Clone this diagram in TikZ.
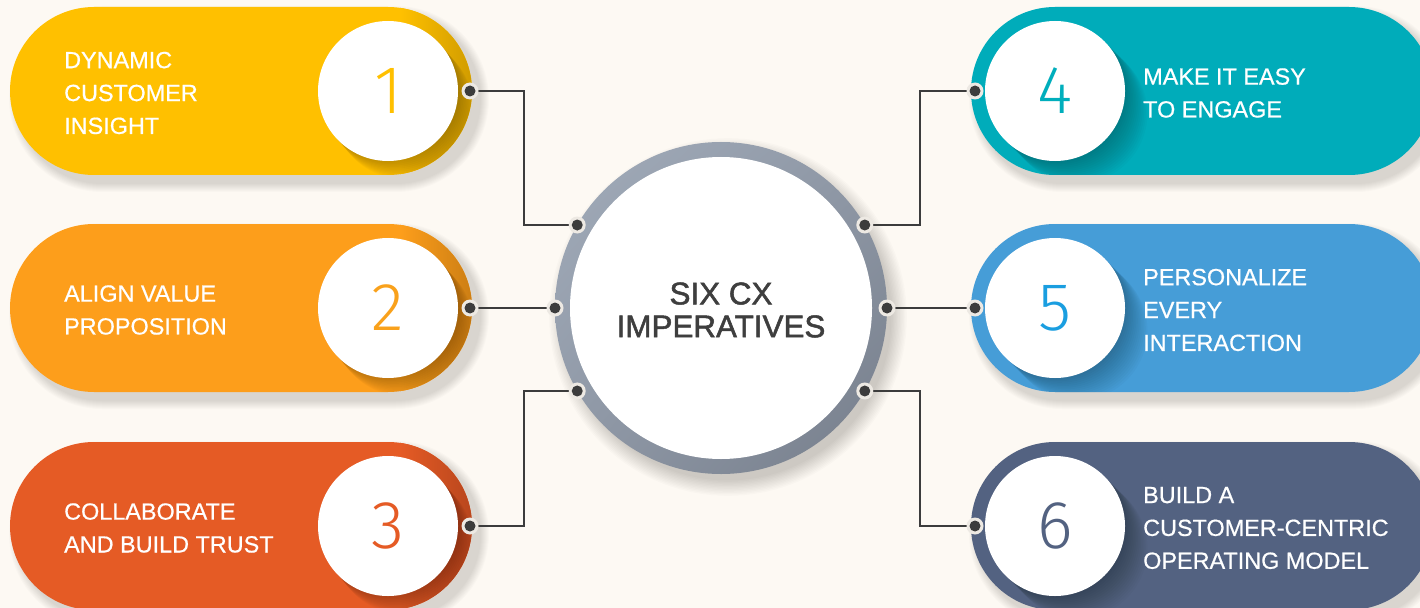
\documentclass[tikz,border=0pt]{standalone}
\usepackage{fontspec}
\setmainfont{Liberation Sans}[FakeBold=0.6]
\newfontfamily\hubfont{Liberation Sans}[FakeBold=1.6]
\newfontfamily\numfont{Fira Sans Light}
\usetikzlibrary{calc,shadings}

\definecolor{bgc}{HTML}{FDF9F3}
\definecolor{yel}{HTML}{FFC000}
\definecolor{yelD}{HTML}{D09C00}
\definecolor{org}{HTML}{FD9E1B}
\definecolor{orgD}{HTML}{CC7E14}
\definecolor{red}{HTML}{E55B25}
\definecolor{redD}{HTML}{B8461D}
\definecolor{teal}{HTML}{00ACBA}
\definecolor{blu}{HTML}{469DD7}
\definecolor{slate}{HTML}{536281}
\definecolor{n1}{HTML}{FFC000}
\definecolor{n2}{HTML}{F9A11B}
\definecolor{n3}{HTML}{E55B25}
\definecolor{n4}{HTML}{00AEBC}
\definecolor{n5}{HTML}{1A9EE0}
\definecolor{n6}{HTML}{536281}
\definecolor{ringL}{HTML}{A2ACBA}
\definecolor{ringM}{HTML}{8F98A6}
\definecolor{ringD}{HTML}{757D8A}
\definecolor{wirec}{HTML}{3C3C3C}
\definecolor{haloc}{HTML}{EDE9E3}
\definecolor{hubtext}{HTML}{3E3E3E}

\tikzset{
  wire/.style={draw=wirec, line width=2bp},
  numdisc/.style={circle, fill=white, minimum size=140bp, inner sep=0pt, outer sep=0pt,
    font=\numfont\fontsize{68}{68}\selectfont},
  lbl/.style={anchor=west, align=left, inner sep=0pt, text=white,
    font=\fontsize{23.5}{33}\selectfont},
  hubring/.style={circle, minimum size=332bp, inner sep=0pt, outer sep=0pt,
    upper left=ringL, upper right=ringM, lower left=ringM, lower right=ringD},
  hubface/.style={circle, fill=white, minimum size=302bp, inner sep=0pt},
  hubtitle/.style={align=center, text=hubtext, inner sep=0pt,
    font=\hubfont\fontsize{31.5}{33}\selectfont},
}

\begin{document}
\begin{tikzpicture}[x=1bp, y=-1bp]
\useasboundingbox (0,0) rectangle (1420,608);
\clip (0,0) rectangle (1420,608);
\fill[bgc] (0,0) rectangle (1420,608);

% ---------- left-hand pills ----------
\foreach \y/\c/\d/\n/\t in {91/yel/yelD/1/{DYNAMIC\\CUSTOMER\\INSIGHT},
                             308/org/orgD/2/{ALIGN VALUE\\PROPOSITION},
                             526/red/redD/3/{COLLABORATE\\AND BUILD TRUST}}{
  % soft drop shadow
  \foreach \i in {1,...,9}
    \fill[black, opacity=0.014, rounded corners={84bp+\i bp}]
      ({18-\i}, {\y-76-\i}) rectangle ({480+\i}, {\y+92+\i});
  \fill[\c, rounded corners=84bp] (10,{\y-84}) rectangle (472,{\y+84});
  \begin{scope}
    \clip[rounded corners=84bp] (10,{\y-84}) rectangle (472,{\y+84});
    \shade[left color=\c, right color=\d] (400,{\y-84}) rectangle (473,{\y+84});
    \foreach \i in {1,...,12}
      \fill[black, opacity=0.018] ({388+1.3*\i},{\y+1.5*\i}) circle (70);
  \end{scope}
  \node[numdisc, text=n\n] (c\n) at (388,\y) {\n};
  \node[lbl] (t\n) at (64,{\y+2}) {\t};
  \coordinate (p\n) at (470,\y);
}

% ---------- right-hand pills ----------
\foreach \y/\c/\n/\t in {91/teal/4/{MAKE IT EASY\\TO ENGAGE},
                         308/blu/5/{PERSONALIZE\\EVERY\\INTERACTION},
                         526/slate/6/{BUILD A\\CUSTOMER-CENTRIC\\OPERATING MODEL}}{
  \foreach \i in {1,...,9}
    \fill[black, opacity=0.014, rounded corners={84bp+\i bp}]
      ({978-\i}, {\y-76-\i}) rectangle ({1440+\i}, {\y+92+\i});
  \fill[\c, rounded corners=84bp] (971,{\y-84}) rectangle (1433,{\y+84});
  \begin{scope}
    \clip[rounded corners=84bp] (971,{\y-84}) rectangle (1433,{\y+84});
    \foreach \i in {1,...,14}
      \fill[black, opacity=0.02] ({1055+1.6*\i},{\y+1.6*\i}) circle (70);
  \end{scope}
  \node[numdisc, text=n\n] (c\n) at (1055,\y) {\n};
  \node[lbl] (t\n) at (1143,{\y+2}) {\t};
  \coordinate (p\n) at (975,\y);
}

% ---------- central hub ----------
\foreach \i in {1,...,12}
  \fill[black, opacity=0.016] (728,317) circle ({162+1.4*\i});
\node[hubring] (hub) at (721,308) {};
\node[hubface] (hubin) at (hub.center) {};
\node[hubtitle] (title) at ([yshift=-2bp]hub.center) {SIX CX\\IMPERATIVES};

\coordinate (h1) at (hub.150);
\coordinate (h2) at (hub.180);
\coordinate (h3) at (hub.210);
\coordinate (h4) at (hub.30);
\coordinate (h5) at (hub.0);
\coordinate (h6) at (hub.-30);

% ---------- connectors ----------
\foreach \k in {1,3,4,6}
  \draw[wire] (p\k) -| ($(p\k)!0.5!(h\k)$) |- (h\k);
\draw[wire] (p2) -- (h2);
\draw[wire] (p5) -- (h5);

% ---------- end dots ----------
\foreach \k in {1,...,6}{
  \fill[haloc] (p\k) circle (8.5);
  \fill[wirec] (p\k) circle (5.5);
  \fill[haloc] (h\k) circle (8.5);
  \fill[wirec] (h\k) circle (5.5);
}
\end{tikzpicture}
\end{document}
